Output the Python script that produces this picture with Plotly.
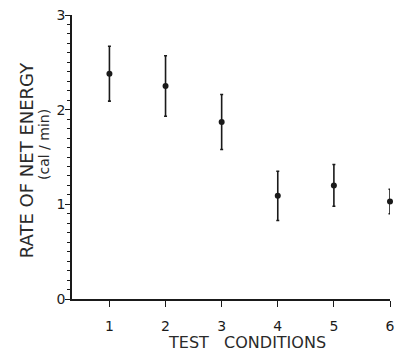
import plotly.graph_objects as go

conditions = [1, 2, 3, 4, 5, 6]
energy_rate = [2.38, 2.25, 1.87, 1.09, 1.20, 1.03]
error_sd = [0.29, 0.32, 0.29, 0.26, 0.22, 0.13]

ink = "#1a1a1a"
font_family = "DejaVu Sans, Liberation Sans, Arial, sans-serif"

fig = go.Figure()
fig.add_trace(go.Scatter(
    x=conditions, y=energy_rate,
    mode="markers",
    marker=dict(color=ink, size=6),
    error_y=dict(type="data", array=error_sd, visible=True,
                 color=ink, thickness=1.6, width=1.5),
    showlegend=False,
    cliponaxis=False,
))

fig.update_layout(
    width=402, height=355,
    margin=dict(l=72, r=7, t=14, b=56),
    paper_bgcolor="white", plot_bgcolor="white",
    font=dict(family=font_family, color=ink, size=13),
    xaxis=dict(
        range=[0.333, 6.0], tickvals=conditions, ticktext=[str(c) for c in conditions],
        showline=True, linecolor=ink, linewidth=1.5, showgrid=False, zeroline=False,
        ticks="outside", ticklen=6, tickwidth=1.2, tickcolor=ink,
        tickfont=dict(size=14, color=ink), ticklabelstandoff=7,
    ),
    yaxis=dict(
        range=[0, 3], tickvals=[0, 1, 2, 3],
        showline=True, linecolor=ink, linewidth=1.5, showgrid=False, zeroline=False,
        ticks="outside", ticklen=5, tickwidth=1.2, tickcolor=ink,
        tickfont=dict(size=14, color=ink), ticklabelstandoff=-3,
        minor=dict(dtick=0.1, ticks="outside", ticklen=3, tickwidth=1, tickcolor=ink, showgrid=False),
    ),
)

fig.add_annotation(text="TEST   CONDITIONS", xref="paper", yref="paper",
                   x=(250 - 72) / (395 - 72), y=-(343 - 299) / 285,
                   showarrow=False, font=dict(size=16, color="#2a2a2a"),
                   xanchor="center", yanchor="middle")
fig.add_annotation(text="RATE OF NET ENERGY", xref="paper", yref="paper",
                   x=-(72 - 26) / 323, y=(299 - 160) / 285, textangle=-90,
                   showarrow=False, font=dict(size=18, color="#2a2a2a"),
                   xanchor="center", yanchor="middle")
fig.add_annotation(text="(cal / min)", xref="paper", yref="paper",
                   x=-(72 - 43) / 323, y=(299 - 144) / 285, textangle=-90,
                   showarrow=False, font=dict(size=14, color="#2a2a2a"),
                   xanchor="center", yanchor="middle")

fig.write_html("out.html", config={"displayModeBar": False},
               post_script="document.body.style.margin='0';")
